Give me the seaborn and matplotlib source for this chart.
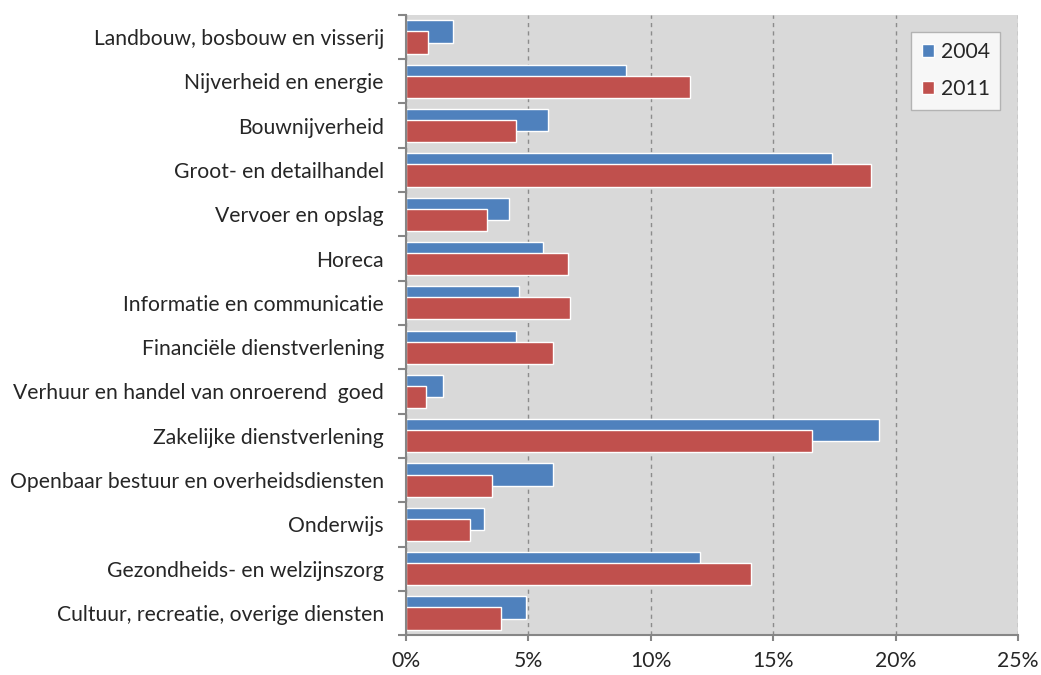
import numpy as np
import pandas as pd
import matplotlib
matplotlib.use("Agg")
import matplotlib.pyplot as plt
import seaborn as sns
from matplotlib.ticker import PercentFormatter, FixedLocator

sectors = [
    "Landbouw, bosbouw en visserij",
    "Nijverheid en energie",
    "Bouwnijverheid",
    "Groot- en detailhandel",
    "Vervoer en opslag",
    "Horeca",
    "Informatie en communicatie",
    "Financiële dienstverlening",
    "Verhuur en handel van onroerend  goed",
    "Zakelijke dienstverlening",
    "Openbaar bestuur en overheidsdiensten",
    "Onderwijs",
    "Gezondheids- en welzijnszorg",
    "Cultuur, recreatie, overige diensten",
]
share_2004 = [1.9, 9.0, 5.8, 17.4, 4.2, 5.6, 4.6, 4.5, 1.5, 19.3, 6.0, 3.2, 12.0, 4.9]
share_2011 = [0.9, 11.6, 4.5, 19.0, 3.3, 6.6, 6.7, 6.0, 0.8, 16.6, 3.5, 2.6, 14.1, 3.9]
years = ["2004", "2011"]
colors = ["#4F81BD", "#C0504D"]

df = pd.DataFrame({
    "sector": sectors * 2,
    "share": share_2004 + share_2011,
    "year": [years[0]] * len(sectors) + [years[1]] * len(sectors),
})

sns.set_style("white")
plt.rcParams["font.family"] = ["Lato", "DejaVu Sans"]

fig, ax = plt.subplots(figsize=(10.41, 6.75), dpi=100)
fig.subplots_adjust(left=0.39, right=0.978, top=0.978, bottom=0.059)

sns.barplot(data=df, x="share", y="sector", hue="year", palette=colors,
            saturation=1, orient="h", width=0.5, dodge=True,
            edgecolor="white", linewidth=1, ax=ax)

# bars overlap by half: widen each dodged bar around its own centre
for cont in ax.containers:
    for bar in cont:
        yc = bar.get_y() + bar.get_height() / 2
        bar.set_height(0.5)
        bar.set_y(yc - 0.25)

ax.set_facecolor("#D9D9D9")
ax.set_xlim(0, 25)
ax.set_ylim(len(sectors) - 0.5, -0.5)
ax.set_xticks(np.arange(0, 26, 5))
ax.xaxis.set_major_formatter(PercentFormatter(xmax=100, decimals=0))
ax.set_axisbelow(True)
ax.xaxis.grid(True, linestyle=(0, (3, 3)), color="#8C8C8C", linewidth=1)
ax.yaxis.grid(False)

ax.yaxis.set_minor_locator(FixedLocator(np.arange(-0.5, len(sectors), 1)))
ax.tick_params(axis="y", which="major", length=0, pad=16, labelsize=15.2)
ax.tick_params(axis="y", which="minor", left=True, length=6, width=1.5, color="#868686")
ax.tick_params(axis="x", which="major", bottom=True, length=4.5, width=1.5,
               color="#868686", pad=7, labelsize=15.2)

for side in ["top", "right"]:
    ax.spines[side].set_visible(False)
for side in ["left", "bottom"]:
    ax.spines[side].set_color("#868686")
    ax.spines[side].set_linewidth(1.5)

ax.set_xlabel("")
ax.set_ylabel("")

leg = ax.legend(loc="upper right", bbox_to_anchor=(0.971, 0.973), borderaxespad=0,
                fontsize=15.2, frameon=True, fancybox=False, handlelength=0.6,
                handleheight=0.6, handletextpad=0.3, labelspacing=0.8,
                borderpad=0.5)
leg.get_frame().set_edgecolor("#A6A6A6")
leg.get_frame().set_facecolor("white")
leg.get_frame().set_linewidth(1)

fig.savefig("out.png", dpi=100)
